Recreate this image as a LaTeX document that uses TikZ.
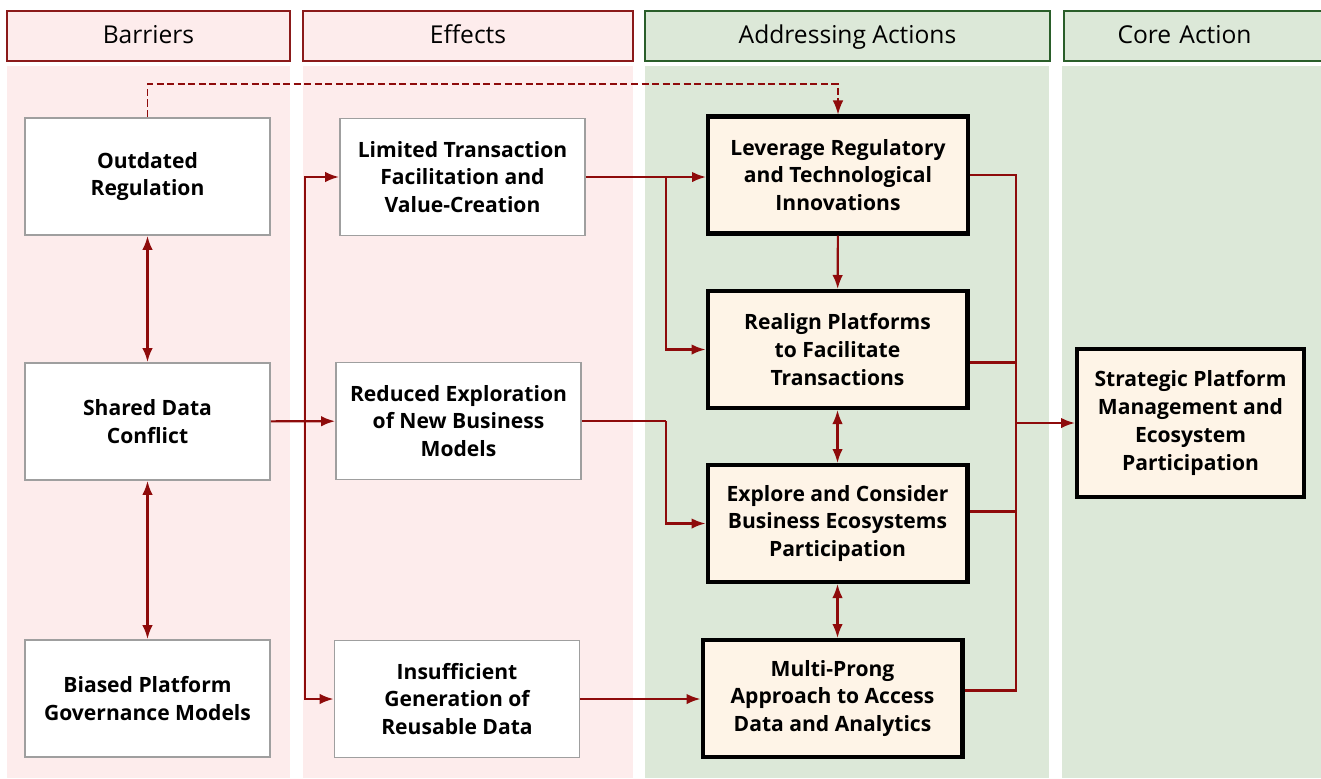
\documentclass[tikz,border=0pt]{standalone}
\usepackage{fontspec}
\setmainfont{Open Sans}
\usetikzlibrary{arrows.meta, positioning, calc}
\definecolor{barrierred}{HTML}{8B1A1A}
\definecolor{linkred}{HTML}{8E0B0B}
\definecolor{pinkbg}{HTML}{FDECEC}
\definecolor{greenbg}{HTML}{DCE8D8}
\definecolor{greenline}{HTML}{2A5E2A}
\definecolor{creamfill}{HTML}{FEF4E7}
\tikzset{
  colhead/.style={rectangle, line width=1.2pt, minimum height=1cm, text height=2.2ex, text depth=0.5ex, font=\fontsize{14}{16}\selectfont},
  barrierbox/.style={rectangle, draw=gray!75, line width=1.1pt, fill=white, minimum width=4.9cm, minimum height=2.34cm, align=center, font=\bfseries\fontsize{12}{15.8}\selectfont},
  actionbox/.style={rectangle, draw=black, line width=2.3pt, fill=creamfill, minimum width=5.2cm, minimum height=2.34cm, align=center, font=\bfseries\fontsize{12}{15.8}\selectfont},
  linkline/.style={draw=linkred, line width=1.2pt},
  link/.style={linkline, -{Latex[length=2.8mm,width=2.1mm]}},
  twoway/.style={linkline, {Latex[length=2.8mm,width=2.1mm]}-{Latex[length=2.8mm,width=2.1mm]}}
}

\begin{document}
\begin{tikzpicture}[x=0.02cm, y=-0.02cm]
\useasboundingbox (0,0) rectangle (1321,778);

% column backgrounds
\fill[pinkbg] (7,66) rectangle (290,778);
\fill[pinkbg] (303,66) rectangle (633,778);
\fill[greenbg] (645,66) rectangle (1049,778);
\fill[greenbg] (1062,66) rectangle (1330,778);

% headers
\node[colhead, draw=barrierred, fill=pinkbg, minimum width=5.66cm] (hBar) at (148.5,36) {Barriers};
\node[colhead, draw=barrierred, fill=pinkbg, minimum width=6.6cm] (hEff) at (468,36) {Effects};
\node[colhead, draw=greenline, fill=greenbg, minimum width=8.1cm] (hAdd) at (847.5,36) {Addressing Actions};
\node[colhead, draw=greenline, fill=greenbg, text width=5.1cm, align=left] (hCore) at (1197,36) {\hspace{0.96cm}Core Action};

% barriers
\node[barrierbox] (outdated) at (147.5,176.5) {Outdated\\Regulation};
\node[barrierbox] (shared) at (147.5,421.5) {Shared Data\\Conflict};
\node[barrierbox] (biased) at (147.5,698.5) {Biased Platform\\Governance Models};

% effects
\node[barrierbox] (limited) at (462.5,177) {Limited Transaction\\Facilitation and\\Value-Creation};
\node[barrierbox] (reduced) at (458.5,421) {Reduced Exploration\\of New Business\\Models};
\node[barrierbox] (insuff) at (457,699) {Insufficient\\Generation of\\Reusable Data};

% addressing actions
\node[actionbox] (leverage) at (838,175) {Leverage Regulatory\\and Technological\\Innovations};
\node[actionbox] (realign) at (837.5,349.5) {Realign Platforms\\to Facilitate\\Transactions};
\node[actionbox] (explore) at (837.5,523.5) {Explore and Consider\\Business Ecosystems\\Participation};
\node[actionbox] (multi) at (832.5,698.5) {Multi-Prong\\Approach to Access\\Data and Analytics};

% core action
\node[actionbox, minimum width=4.54cm, minimum height=2.96cm] (strategic) at (1190.5,423) {Strategic Platform\\Management and\\Ecosystem\\Participation};

% bus points
\coordinate (busL) at (305,421);
\coordinate (busM) at (666,421);
\coordinate (busR) at (1016,423);
\coordinate (dashtop) at (148,84);

% barriers
\draw[twoway] (outdated) -- (shared);
\draw[twoway] (shared) -- (biased);
\draw[link] (shared) -- (reduced);
\draw[link] (busL |- limited.east) -- (busL) |- (insuff.west);
\draw[link] (busL) |- (limited.west);
\draw[link, dashed, dash pattern=on 4pt off 2pt, line width=0.8pt] (outdated.north) -- (outdated.north |- dashtop) -| (leverage.north);

% effects
\draw[link] (limited.east) -- (limited.east -| leverage.west);
\draw[linkline] (reduced.east) -- (busM);
\draw[link] (limited.east -| busM) |- (realign.west);
\draw[link] (busM) |- (explore.west);
\draw[link] (insuff.east) -- (insuff.east -| multi.west);

% actions
\draw[link] (leverage) -- (realign);
\draw[twoway] (realign) -- (explore);
\draw[twoway] (explore.south) -- (explore.south |- multi.north);
\draw[linkline] (leverage.east) -| (busR);
\draw[linkline] ($(realign.east)+(0,13)$) -| (busR);
\draw[linkline] ($(explore.east)+(0,-12)$) -| (busR);
\draw[linkline] ($(multi.east)+(0,-8)$) -| (busR);
\draw[link] (busR) -- (strategic);

\end{tikzpicture}
\end{document}
